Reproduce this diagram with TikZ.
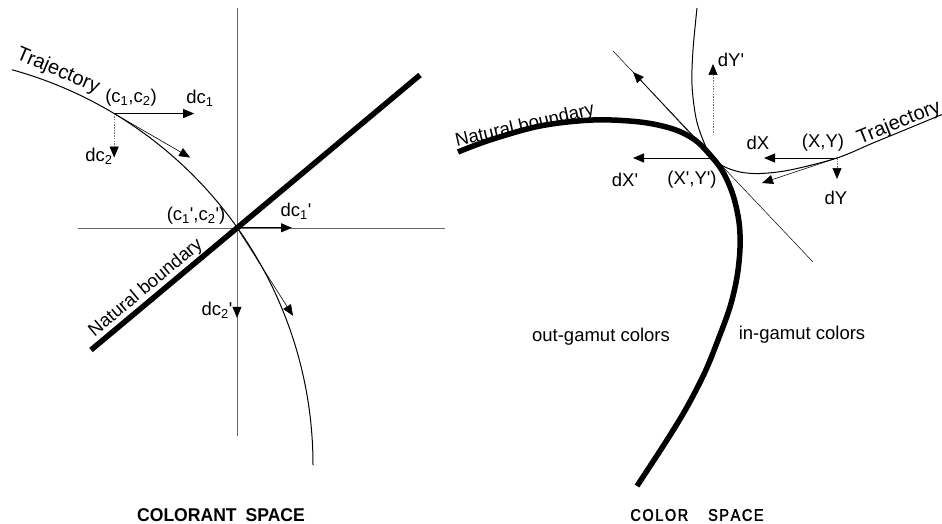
\documentclass[tikz,border=0pt]{standalone}
\usepackage{fontspec}
\setmainfont{Liberation Sans}
\newfontfamily\condbold[FakeStretch=0.95]{Liberation Sans Bold}
\newfontfamily\condmed[FakeStretch=0.86,FakeBold=2.2]{Liberation Sans}
\usetikzlibrary{arrows.meta,calc}
\begin{document}
\begin{tikzpicture}[x=1pt,y=-1pt,
  lbl/.style={font=\fontsize{18.5}{20}\selectfont, inner sep=0pt},
  axisline/.style={line width=0.6pt, black!60},
  trajline/.style={line width=1pt, black},
  boundline/.style={line width=5.5pt, black},
  thinline/.style={line width=0.5pt, black},
  tip/.style={-{Triangle[length=11pt,width=9pt,black]}},
  vecarrow/.style={tip, line width=1pt, black},
  tanarrow/.style={tip, line width=0.6pt, black},
  dotarrow/.style={tip, line width=0.7pt, black!55, dash pattern=on 1.5pt off 1.2pt},
  titleA/.style={font=\condbold\fontsize{18.5}{20}\selectfont, inner sep=0pt},
  titleB/.style={font=\condmed\fontsize{16.8}{18}\selectfont, inner sep=0pt}
]
\useasboundingbox (0,0) rectangle (942,524);
\fill[white] (0,0) rectangle (942,524);

% ---------------- LEFT: colorant space ----------------
\coordinate (C) at (-97,465);
\coordinate (P1) at ($(C)+(-59:410)$);
\coordinate (P2) at (237,227.8);
\coordinate (hA) at (78,227.8);
\coordinate (hB) at (445,227.8);
\coordinate (vA) at (237,8);
\coordinate (vB) at (237,436);
\coordinate (nbA) at (91,350);
\coordinate (nbB) at (420,75);

\draw[axisline] (hA) -- (hB);
\draw[axisline] (vA) -- (vB);
\draw[trajline] ($(C)+(-74.6:410)$) arc[start angle=-74.6, end angle=0, radius=410];
\draw[boundline] (nbA) -- (nbB);

\coordinate (dc1) at ($(P1)+(80,0)$);
\coordinate (dc2) at ($(P1)+(0,44)$);
\coordinate (t1) at ($(P1)+(76,44)$);
\draw[vecarrow] (P1) -- (dc1);
\draw[dotarrow] (P1) -- (dc2);
\draw[tanarrow] (P1) -- (t1);

\coordinate (dc1p) at ($(P2)+(55,0)$);
\coordinate (dc2p) at ($(P2)+(0,90)$);
\coordinate (t2) at ($(P2)+(56,88)$);
\draw[vecarrow] (P2) -- (dc1p);
\draw[dotarrow] (P2) -- (dc2p);
\draw[tanarrow] (P2) -- (t2);

\node[lbl, font=\fontsize{20}{22}\selectfont, rotate=-23] (trajL) at (58,71) {Trajectory};
\node[lbl] (c12) at (131,98) {(c\textsubscript{1},c\textsubscript{2})};
\node[lbl] (ldc1) at (200,98) {dc\textsubscript{1}};
\node[lbl] (ldc2) at (99,156) {dc\textsubscript{2}};
\node[lbl] (c12p) at (196,216) {(c\textsubscript{1}\textquotesingle,c\textsubscript{2}\textquotesingle)};
\node[lbl] (ldc1p) at (296,211) {dc\textsubscript{1}\textquotesingle};
\node[lbl] (ldc2p) at (217,310) {dc\textsubscript{2}\textquotesingle};
\node[lbl, rotate=39.9] (nbL) at (146,288) {Natural boundary};

% ---------------- RIGHT: color space ----------------
\coordinate (T) at (711,156);
\coordinate (XY) at (837,158);

\draw[trajline] plot[smooth, tension=0.55] coordinates {
  (697,8) (693,50) (692,85) (696,118) (703,140) (T) (723,166) (740,172)
  (760,173.5) (790,170) (XY) (873,143) (907,129) (948,112)};
\draw[boundline] plot[smooth, tension=0.55] coordinates {
  (458,152) (490,140) (540,126) (593,120) (640,122) (673,129) (695,140) (T)
  (723,172) (733,195) (739,222) (740,248) (737,277) (730,307) (718,340)
  (705,372) (687,407) (667,440) (637,486)};

\coordinate (tgA) at (613,51);
\coordinate (tgB) at (813,262);
\draw[thinline] (tgA) -- (tgB);
\coordinate (tgT) at (633,72);
\draw[tanarrow] (T) -- (tgT);

\coordinate (dXpS) at (712,158);
\coordinate (dXpT) at (633,158);
\draw[vecarrow] (dXpS) -- (dXpT);
\coordinate (dYpS) at (713,133);
\coordinate (dYpT) at (713,64);
\draw[dotarrow] (dYpS) -- (dYpT);

\coordinate (dXT) at (764,158);
\coordinate (dYT) at (837,179);
\coordinate (t3) at (762,183);
\draw[vecarrow] (XY) -- (dXT);
\draw[dotarrow] (XY) -- (dYT);
\draw[tanarrow] (XY) -- (t3);

\node[lbl] (ldYp) at (731,60) {dY\textquotesingle};
\node[lbl, rotate=13] (nbR) at (525,126) {Natural boundary};
\node[lbl] (ldX) at (758,143) {dX};
\node[lbl] (lXY) at (823,143) {(X,Y)};
\node[lbl, font=\fontsize{20}{22}\selectfont, rotate=22] (trajR) at (899,123) {Trajectory};
\node[lbl] (ldXp) at (625,180) {dX\textquotesingle};
\node[lbl] (lXYp) at (692,180) {(X\textquotesingle,Y\textquotesingle)};
\node[lbl] (ldY) at (836,198) {dY};
\node[lbl] (outg) at (601,337) {out-gamut colors};
\node[lbl] (ing) at (802,335) {in-gamut colors};

% ---------------- titles ----------------
\node[titleA] (tA) at (221,515) {COLORANT\hspace{4pt} SPACE};
\node[titleB] (tB) at (697,515) {C\kern1.6ptO\kern1.6ptL\kern1.6ptO\kern1.6ptR\hspace{20pt}S\kern1.6ptP\kern1.6ptA\kern1.6ptC\kern1.6ptE};
\end{tikzpicture}
\end{document}
